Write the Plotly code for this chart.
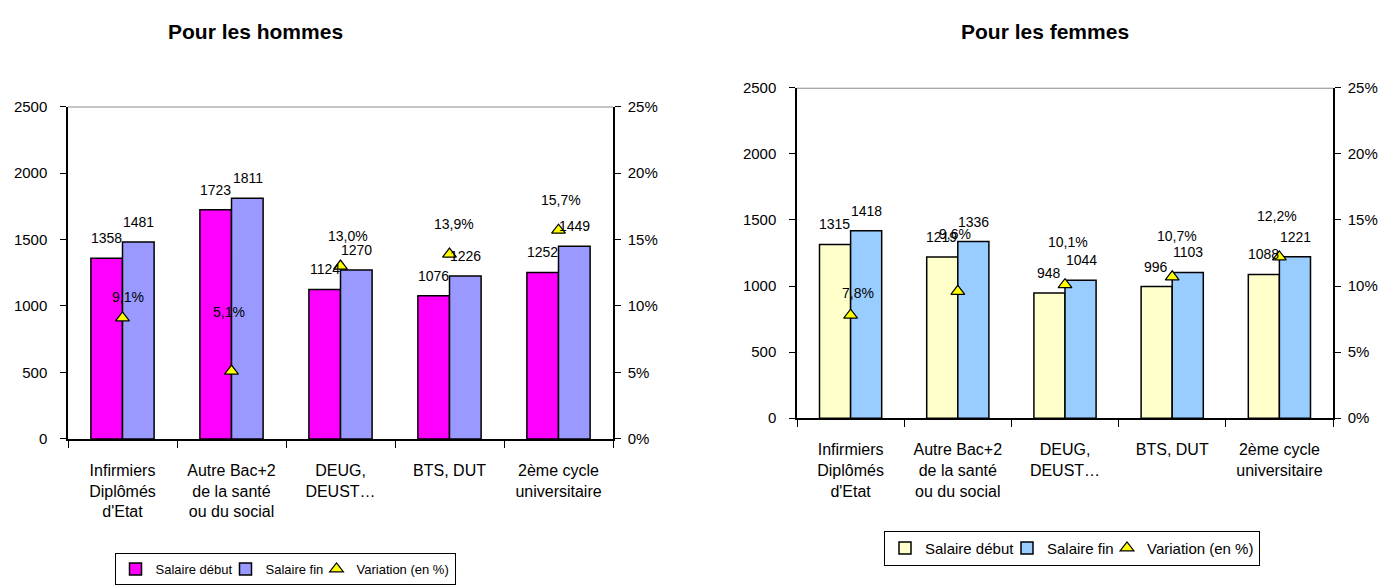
import plotly.graph_objects as go

# Categories of diploma
categories = [
    "Infirmiers<br>Diplômés<br>d'Etat",
    "Autre Bac+2<br>de la santé<br>ou du social",
    "DEUG,<br>DEUST…",
    "BTS, DUT",
    "2ème cycle<br>universitaire",
]

# Men: salaries (euros) and variation (%)
hommes_debut = [1358, 1723, 1124, 1076, 1252]
hommes_fin = [1481, 1811, 1270, 1226, 1449]
hommes_variation = [9.1, 5.1, 13.0, 13.9, 15.7]

# Women: salaries (euros) and variation (%)
femmes_debut = [1315, 1219, 948, 996, 1088]
femmes_fin = [1418, 1336, 1044, 1103, 1221]
femmes_variation = [7.8, 9.6, 10.1, 10.7, 12.2]

salary_ticks = [0, 500, 1000, 1500, 2000, 2500]
pct_ticks = [0, 5, 10, 15, 20, 25]

FONT = "Liberation Sans, Arial, sans-serif"
W, H = 1387, 585

# label placement tweaks (pixel shifts) for the percentage labels
hommes_pct_dx = [5, -3, 7, 4, 2]
hommes_pct_lift = [21, 59, 30, 30, 30]
femmes_pct_dx = [7, -3, 3, 5, -2]
femmes_pct_lift = [22, 57, 43, 41, 41]


def fmt_pct(v):
    return f"{v:.1f}".replace(".", ",") + "%"


fig = go.Figure()

panels = [
    dict(xa="x", ya="y", ya2="y2", legend="legend",
         debut=hommes_debut, fin=hommes_fin, var=hommes_variation,
         c1="#FF00FF", c2="#9999FF", dx=hommes_pct_dx, lift=hommes_pct_lift,
         entry_w=(65, 46)),
    dict(xa="x2", ya="y3", ya2="y4", legend="legend2",
         debut=femmes_debut, fin=femmes_fin, var=femmes_variation,
         c1="#FFFFCC", c2="#99CCFF", dx=femmes_pct_dx, lift=femmes_pct_lift,
         entry_w=(77, 55)),
]

annotations = []
shapes = []

for p in panels:
    bar_line = dict(color="black", width=1.5)
    fig.add_trace(go.Bar(
        x=categories, y=p["debut"], name="Salaire début",
        marker=dict(color=p["c1"], line=bar_line),
        xaxis=p["xa"], yaxis=p["ya"], legend=p["legend"],
        legendwidth=p["entry_w"][0],
    ))
    fig.add_trace(go.Bar(
        x=categories, y=p["fin"], name="Salaire fin",
        marker=dict(color=p["c2"], line=bar_line),
        xaxis=p["xa"], yaxis=p["ya"], legend=p["legend"],
        legendwidth=p["entry_w"][1],
    ))
    fig.add_trace(go.Scatter(
        x=categories, y=p["var"], name="Variation (en %)", mode="markers",
        marker=dict(symbol="triangle-up", size=12, color="#FFFF00",
                    line=dict(color="black", width=1.2)),
        xaxis=p["xa"], yaxis=p["ya2"], legend=p["legend"],
    ))

    # value labels above each bar
    for cat, v1, v2 in zip(categories, p["debut"], p["fin"]):
        for val, sx in ((v1, -16), (v2, 16)):
            annotations.append(dict(
                x=cat, y=val, xref=p["xa"], yref=p["ya"],
                text=str(val), showarrow=False, xshift=sx, yshift=20,
                font=dict(family=FONT, size=14, color="black"),
            ))
    # percentage labels above the triangles
    for cat, v, dx, lift in zip(categories, p["var"], p["dx"], p["lift"]):
        annotations.append(dict(
            x=cat, y=v, xref=p["xa"], yref=p["ya2"],
            text=fmt_pct(v), showarrow=False, xshift=dx, yshift=lift,
            font=dict(family=FONT, size=14, color="black"),
        ))
    # grey border along the top of the plot area
    shapes.append(dict(
        type="line", xref=f"{p['xa']} domain", yref=p["ya"],
        x0=0, x1=1, y0=2500, y1=2500,
        line=dict(color="#8C8C8C", width=2),
    ))

# titles
for cx, title in ((255, "Pour les hommes"), (1045, "Pour les femmes")):
    annotations.append(dict(
        x=cx / W, y=1 - 32 / H, xref="paper", yref="paper",
        xanchor="center", yanchor="middle",
        text=f"<b>{title}</b>", showarrow=False,
        font=dict(family=FONT, size=21, color="black"),
    ))

ytick_font = dict(family=FONT, size=15, color="black")
xtick_font = dict(family=FONT, size=16, color="black")

xaxis_common = dict(
    type="category", showline=True, linecolor="black", linewidth=1.5,
    ticks="outside", tickson="boundaries", ticklen=7, tickcolor="black",
    tickfont=xtick_font, showgrid=False, zeroline=False,
    ticklabelstandoff=16, automargin=False, fixedrange=True,
)
yaxis_left = dict(
    range=[0, 2500], tickvals=salary_ticks, showline=True, linecolor="black",
    linewidth=1.5, ticks="outside", ticklen=6, tickcolor="black",
    tickfont=ytick_font, showgrid=False, zeroline=False,
    ticklabelstandoff=10, automargin=False, fixedrange=True,
)
yaxis_right = dict(
    range=[0, 25], tickvals=pct_ticks,
    ticktext=[f"{v}%" for v in pct_ticks], side="right",
    showline=True, linecolor="black", linewidth=1.5, ticks="outside",
    ticklen=6, tickcolor="black", tickfont=ytick_font, showgrid=False,
    zeroline=False, ticklabelstandoff=4, automargin=False, fixedrange=True,
)

legend_common = dict(
    orientation="h", bordercolor="black", borderwidth=1, bgcolor="white",
    xanchor="center", yanchor="top", itemclick=False, itemdoubleclick=False,
    tracegroupgap=0, itemwidth=30,
)

fig.update_layout(
    template="none",
    width=W, height=H,
    margin=dict(l=0, r=0, t=0, b=0),
    paper_bgcolor="white", plot_bgcolor="white",
    barmode="group", bargap=0.42, bargroupgap=0,
    font=dict(family=FONT, color="black"),
    xaxis=dict(domain=[68 / W, 613 / W], anchor="y", **xaxis_common),
    yaxis=dict(domain=[(H - 445) / H, (H - 108) / H], anchor="x", **yaxis_left),
    yaxis2=dict(overlaying="y", anchor="x", **yaxis_right),
    xaxis2=dict(domain=[797 / W, 1333 / W], anchor="y3", **xaxis_common),
    yaxis3=dict(domain=[(H - 424) / H, (H - 89) / H], anchor="x2", **yaxis_left),
    yaxis4=dict(overlaying="y3", anchor="x2", **yaxis_right),
    legend=dict(x=285 / W, y=1 - 561 / H,
                font=dict(family=FONT, size=13, color="black"), **legend_common),
    legend2=dict(x=1072 / W, y=1 - 538 / H,
                 font=dict(family=FONT, size=15, color="black"), **legend_common),
    annotations=annotations,
    shapes=shapes,
    showlegend=True,
    hovermode=False,
)

fig.write_html("out.html", config={"displayModeBar": False})
